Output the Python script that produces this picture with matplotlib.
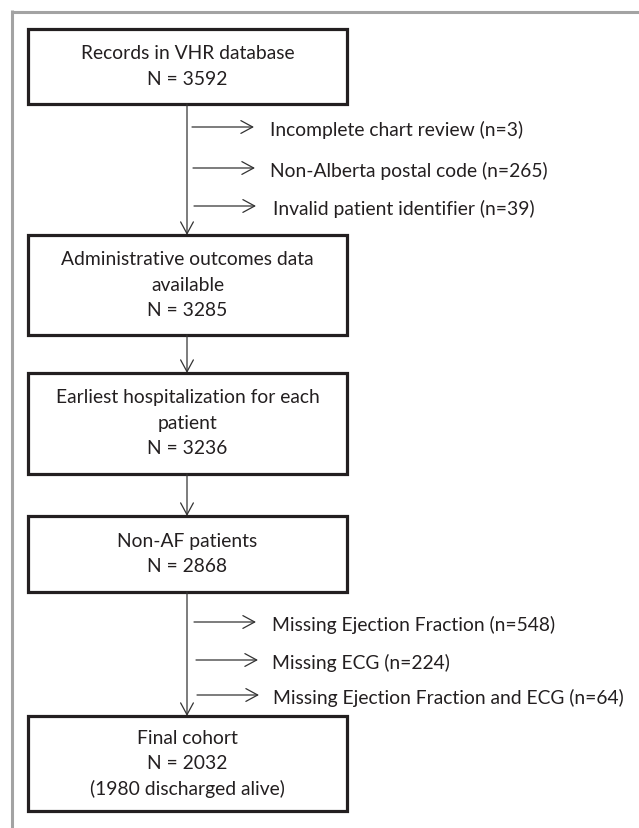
import matplotlib
matplotlib.use('Agg')
import matplotlib.pyplot as plt
import matplotlib.patches as mpatches

plt.rcParams['font.family'] = ['Lato', 'DejaVu Sans']

# ── Flowchart content ────────────────────────────────────────────────────────
box_titles = [
    ['Records in VHR database'],
    ['Administrative outcomes data', 'available'],
    ['Earliest hospitalization for each', 'patient'],
    ['Non-AF patients'],
    ['Final cohort'],
]
box_counts = [3592, 3285, 3236, 2868, 2032]
box_notes = [None, None, None, None, '(1980 discharged alive)']

excl_after_box1 = ['Incomplete chart review', 'Non-Alberta postal code',
                   'Invalid patient identifier']
excl_n_box1 = [3, 265, 39]
excl_after_box4 = ['Missing Ejection Fraction', 'Missing ECG',
                   'Missing Ejection Fraction and ECG']
excl_n_box4 = [548, 224, 64]

# ── Layout (pixel coordinates, y downwards) ─────────────────────────────────
W, H = 639, 829
BOX_L, BOX_R = 28, 347
box_tb = [(30, 105), (236, 336), (374, 475), (517, 593), (717, 812)]
spine_x = 187
line_gap = 25.5
excl_y = {0: [128, 169, 207], 3: [623, 661, 696]}
excl_x0 = {0: [192, 193, 194], 3: [194, 196, 197]}
excl_tx = {0: [270, 270, 273], 3: [272, 272, 273]}
ARROW_LEN = 62
FS = 13.9

DARK = '#231f20'
fig = plt.figure(figsize=(W / 100, H / 100), dpi=100, facecolor='white')
ax = fig.add_axes([0, 0, 1, 1])
ax.set_xlim(0, W)
ax.set_ylim(H, 0)
ax.axis('off')

# outer grey frame (top and left edges only)
ax.plot([11.5, W], [12.5, 12.5], color='#a3a3a3', lw=2.2, solid_capstyle='butt')
ax.plot([11.5, 11.5], [11.4, H], color='#a3a3a3', lw=2.2, solid_capstyle='butt')


def arrow(x0, y0, x1, y1):
    style = mpatches.ArrowStyle('->', head_length=8.5, head_width=4.6)
    ax.add_patch(mpatches.FancyArrowPatch((x0, y0), (x1, y1), arrowstyle=style,
                                          mutation_scale=1, shrinkA=0, shrinkB=0,
                                          color='#333333', lw=0.9))


for i, (top, bot) in enumerate(box_tb):
    ax.add_patch(mpatches.Rectangle((BOX_L, top), BOX_R - BOX_L, bot - top,
                                    fill=False, ec=DARK, lw=2.3))
    lines = box_titles[i] + [f'N = {box_counts[i]}']
    if box_notes[i]:
        lines.append(box_notes[i])
    n = len(lines)
    cy = (top + bot) / 2
    for j, txt in enumerate(lines):
        ax.text((BOX_L + BOX_R) / 2, cy + (j - (n - 1) / 2) * line_gap - 1, txt,
                ha='center', va='center', fontsize=FS, color=DARK)
    if i < len(box_tb) - 1:
        arrow(spine_x, bot, spine_x, box_tb[i + 1][0])

for k, (labels, counts) in {0: (excl_after_box1, excl_n_box1),
                            3: (excl_after_box4, excl_n_box4)}.items():
    for j, (lab, c) in enumerate(zip(labels, counts)):
        y = excl_y[k][j]
        arrow(excl_x0[k][j], y, excl_x0[k][j] + ARROW_LEN, y)
        ax.text(excl_tx[k][j], y + 1.5, f'{lab} (n={c})', ha='left', va='center',
                fontsize=FS, color=DARK)

plt.savefig('out.png', dpi=100, facecolor='white')
